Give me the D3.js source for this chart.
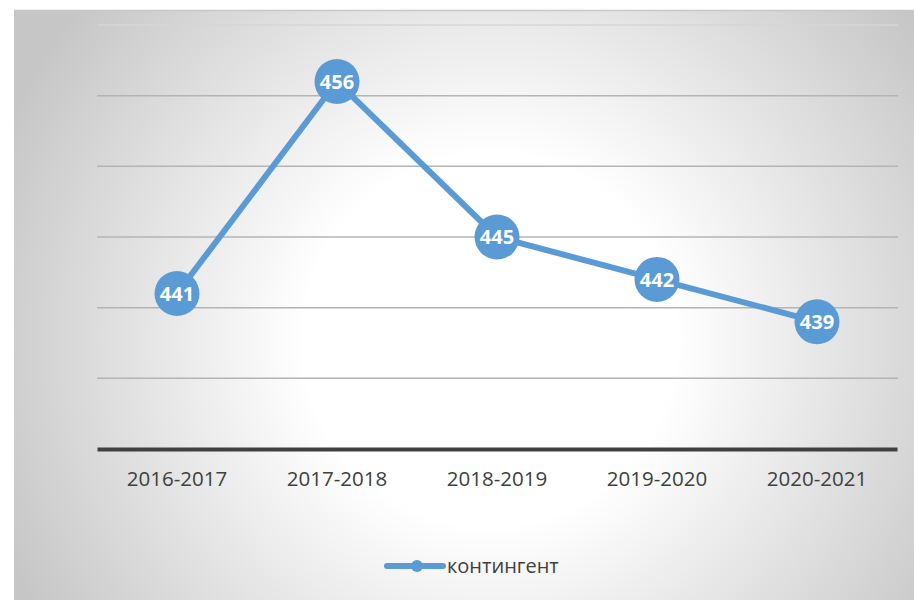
<!DOCTYPE html>
<html lang="ru">
<head>
    <meta charset="UTF-8">
    <script src="https://d3js.org/d3.v7.min.js"></script>
    <style>
        body { margin: 0; background: #fff; }
        text { font-family: "Open Sans", Lato, sans-serif; }
    </style>
</head>
<body>
    <svg id="chart" width="914" height="600"></svg>
    <script>
        const years = ["2016-2017", "2017-2018", "2018-2019", "2019-2020", "2020-2021"];
        const kontingent = [441, 456, 445, 442, 439];
        const yTicks = [430, 435, 440, 445, 450, 455, 460];
        const seriesName = "контингент";

        const width = 914, height = 600;
        const margin = { top: 25, right: 16, bottom: 151, left: 97 };

        const svg = d3.select("#chart");

        // фон с радиальным градиентом
        const defs = svg.append("defs");
        const grad = defs.append("radialGradient")
            .attr("id", "bg")
            .attr("gradientUnits", "userSpaceOnUse")
            .attr("cx", 490).attr("cy", 340).attr("r", 530);
        grad.append("stop").attr("offset", "0.35").attr("stop-color", "#ffffff");
        grad.append("stop").attr("offset", "1").attr("stop-color", "#c6c6c6");

        svg.append("rect")
            .attr("x", 14).attr("y", 10)
            .attr("width", width - 14).attr("height", height - 10)
            .attr("fill", "url(#bg)");
        svg.append("line")
            .attr("x1", 14).attr("x2", width).attr("y1", 10.5).attr("y2", 10.5)
            .attr("stroke", "#c8c8c8").attr("stroke-width", 1.5);

        const x = d3.scaleBand()
            .domain(years)
            .range([margin.left, width - margin.right - 1]);

        const y = d3.scaleLinear()
            .domain([430, 460])
            .range([height - margin.bottom, margin.top]);

        // сетка
        svg.append("g")
            .selectAll("line")
            .data(yTicks.slice(1))
            .enter().append("line")
            .attr("x1", margin.left).attr("x2", width - margin.right)
            .attr("y1", d => y(d)).attr("y2", d => y(d))
            .attr("stroke", d => d === 460 ? "#d6d6d6" : "#b4b4b4")
            .attr("stroke-width", 1.5);

        // ось X
        const xAxis = svg.append("g")
            .attr("transform", `translate(0,${y(430)})`)
            .call(d3.axisBottom(x).tickSize(0).tickPadding(22));
        xAxis.select(".domain")
            .attr("stroke", "#404040").attr("stroke-width", 4);
        xAxis.selectAll("text")
            .attr("fill", "#404040")
            .style("font-size", "20.5px");

        const pts = years.map((yr, i) => ({ yr, v: kontingent[i] }));

        const line = d3.line()
            .x(d => x(d.yr) + x.bandwidth() / 2)
            .y(d => y(d.v));

        svg.append("path")
            .datum(pts)
            .attr("fill", "none")
            .attr("stroke", "#5b9bd5")
            .attr("stroke-width", 6)
            .attr("stroke-linejoin", "round")
            .attr("d", line);

        svg.selectAll(".dot")
            .data(pts)
            .enter().append("circle")
            .attr("class", "dot")
            .attr("cx", d => x(d.yr) + x.bandwidth() / 2)
            .attr("cy", d => y(d.v))
            .attr("r", 22.5)
            .attr("fill", "#5b9bd5");

        svg.selectAll(".label")
            .data(pts)
            .enter().append("text")
            .attr("class", "label")
            .attr("x", d => x(d.yr) + x.bandwidth() / 2)
            .attr("y", d => y(d.v))
            .attr("dy", "0.36em")
            .attr("text-anchor", "middle")
            .attr("fill", "#fff")
            .style("font-size", "20px")
            .style("font-weight", "bold")
            .text(d => d.v);

        // легенда
        const lg = svg.append("g").attr("transform", "translate(387,566)");
        lg.append("line")
            .attr("x1", 0).attr("x2", 56)
            .attr("stroke", "#5b9bd5").attr("stroke-width", 6)
            .attr("stroke-linecap", "round");
        lg.append("circle").attr("cx", 30).attr("r", 6).attr("fill", "#5b9bd5");
        lg.append("text")
            .attr("x", 60).attr("dy", "0.35em")
            .attr("fill", "#404040")
            .style("font-size", "20px")
            .text(seriesName);
    </script>
</body>
</html>
